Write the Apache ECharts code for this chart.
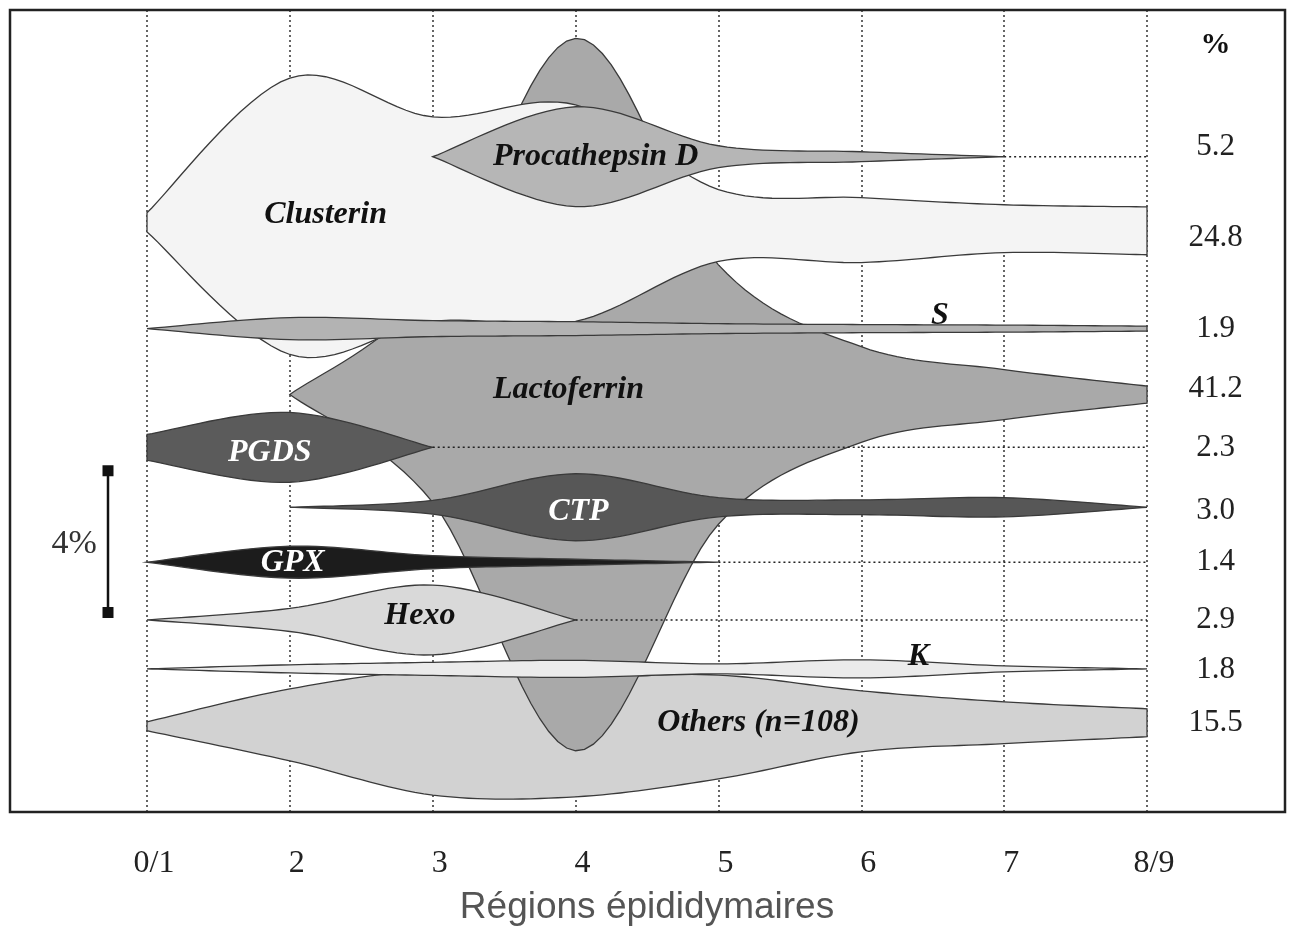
<!DOCTYPE html>
<html>
<head>
<meta charset="utf-8">
<title>Régions épididymaires</title>
<script src="https://cdn.jsdelivr.net/npm/echarts@6/dist/echarts.min.js"></script>
<style>
  html, body { margin: 0; padding: 0; background: #fff; }
  #chart { width: 1294px; height: 931px; }
</style>
</head>
<body>
<div id="chart"></div>
<script>
// régions épididymaires (axe X)
const regions = ['0/1', '2', '3', '4', '5', '6', '7', '8/9'];

// protéines, dans l'ordre de haut en bas
const proteins = ['Procathepsin D', 'Clusterin', 'S', 'Lactoferrin', 'PGDS', 'CTP', 'GPX', 'Hexo', 'K', 'Others (n=108)'];
const percents = [5.2, 24.8, 1.9, 41.2, 2.3, 3.0, 1.4, 2.9, 1.8, 15.5];

// épaisseur de chaque bande (en %) par région, null = absente
const procathepsinW = [null, null, 0, 2.82, 0.62, 0.28, 0, null];
const clusterinW = [0.54, 7.80, 5.77, 6.11, 2.03, 1.83, 1.35, 1.35];
const sW = [0, 0.62, 0.45, 0.39, 0.28, 0.23, 0.20, 0.14];
const lactoferrinW = [null, 0, 6.08, 20.1, 7.32, 2.70, 1.41, 0.48];
const pgdsW = [0.73, 1.97, 0, null, null, null, null, null];
const ctpW = [null, 0, 0.39, 1.89, 0.54, 0.42, 0.54, 0];
const gpxW = [0, 0.90, 0.37, 0.17, 0, null, null, null];
const hexoW = [0, 0.65, 1.97, 0, null, null, null, null];
const kW = [0, 0.23, 0.37, 0.48, 0.28, 0.51, 0.17, 0];
const othersW = [0.25, 2.03, 3.52, 3.38, 2.93, 1.72, 1.18, 0.79];

// axe central de chaque bande (en %, depuis le haut du cadre)
const clusterinC = [5.99, 5.82, 5.90, 5.73, 6.08, 6.21, 6.17, 6.23];
const othersC = [20.21, 20.17, 20.39, 20.51, 20.23, 20.07, 20.11, 20.11];
const centers = [4.14, clusterinC, 8.99, 10.85, 12.34, 14.03, 15.58, 17.21, 18.59, othersC];
const widths = [procathepsinW, clusterinW, sW, lactoferrinW, pgdsW, ctpW, gpxW, hexoW, kW, othersW];

// position des étiquettes (région, %)
const nameX = [3.14, 1.25, 5.55, 2.95, 0.86, 3.02, 1.02, 1.91, 5.40, 4.28];
const nameY = [4.14, 5.77, 8.62, 10.70, 12.48, 14.17, 15.60, 17.10, 18.25, 20.11];
const percentRows = [3.86, 6.42, 9.01, 10.70, 12.34, 14.14, 15.58, 17.21, 18.62, 20.11];

const fills = ['#b6b6b6', '#f4f4f4', '#b3b3b3', '#a9a9a9', '#5b5b5b', '#575757', '#1c1c1c', '#d9d9d9', '#ebebeb', '#d2d2d2'];
const nameColors = ['#111', '#111', '#111', '#111', '#fff', '#fff', '#fff', '#111', '#111', '#111'];
// ordre de dessin (arrière -> avant)
const drawOrder = [9, 3, 1, 0, 2, 4, 5, 6, 7, 8];

const scaleBar = 4; // barre d'échelle : 4 %
const scaleFrom = 13;

const chart = echarts.init(document.getElementById('chart'));

// courbe de Catmull-Rom passant par les points
function smoothEdge(pts) {
    const out = [pts[0]];
    for (let i = 0; i < pts.length - 1; i++) {
        const p0 = pts[Math.max(i - 1, 0)], p1 = pts[i], p2 = pts[i + 1], p3 = pts[Math.min(i + 2, pts.length - 1)];
        for (let s = 1; s <= 16; s++) {
            const t = s / 16, t2 = t * t, t3 = t2 * t;
            const f = k => 0.5 * (2 * p1[k] + (p2[k] - p0[k]) * t +
                (2 * p0[k] - 5 * p1[k] + 4 * p2[k] - p3[k]) * t2 +
                (3 * p1[k] - p0[k] - 3 * p2[k] + p3[k]) * t3);
            out.push([f(0), f(1)]);
        }
    }
    return out;
}

function centerAt(p, i) {
    const c = centers[p];
    return Array.isArray(c) ? c[i] : c;
}

function renderBand(params, api) {
    const p = drawOrder[params.dataIndex];
    const w = widths[p];
    const idx = [];
    w.forEach((v, i) => { if (v != null) idx.push(i); });
    const top = idx.map(i => api.coord([i, centerAt(p, i) - w[i] / 2]));
    const bot = idx.map(i => api.coord([i, centerAt(p, i) + w[i] / 2]));
    const points = smoothEdge(top).concat(smoothEdge(bot).reverse());
    const children = [{
        type: 'polygon',
        shape: { points: points },
        style: { fill: fills[p], stroke: '#3a3a3a', lineWidth: 1.3 }
    }];
    const last = idx[idx.length - 1];
    if (last < regions.length - 1) {
        const a = api.coord([last, centerAt(p, last)]);
        const b = api.coord([regions.length - 1, centerAt(p, last)]);
        children.push({
            type: 'line',
            shape: { x1: a[0], y1: a[1], x2: b[0], y2: b[1] },
            style: { stroke: '#222', lineWidth: 1.5, lineDash: [2, 3] }
        });
    }
    return { type: 'group', children: children };
}

function renderLabels(params, api) {
    const p = params.dataIndex;
    const a = api.coord([nameX[p], nameY[p]]);
    const b = api.coord([7.48, percentRows[p]]);
    return {
        type: 'group',
        children: [{
            type: 'text', x: a[0], y: a[1],
            style: {
                text: proteins[p], fill: nameColors[p], align: 'center', verticalAlign: 'middle',
                font: 'italic bold 32px "Liberation Serif"'
            }
        }, {
            type: 'text', x: b[0], y: b[1],
            style: {
                text: percents[p].toFixed(1), fill: '#222', align: 'center', verticalAlign: 'middle',
                font: '31px "Liberation Serif"'
            }
        }]
    };
}

function renderExtras(params, api) {
    const t = api.coord([-0.273, scaleFrom]);
    const b = api.coord([-0.273, scaleFrom + scaleBar]);
    const lbl = api.coord([-0.51, scaleFrom + scaleBar / 2 + 0.07]);
    const head = api.coord([7.48, 0.99]);
    return {
        type: 'group',
        children: [
            { type: 'line', shape: { x1: t[0], y1: t[1], x2: b[0], y2: b[1] }, style: { stroke: '#111', lineWidth: 2.5 } },
            { type: 'rect', shape: { x: t[0] - 5.5, y: t[1] - 5.5, width: 11, height: 11 }, style: { fill: '#111' } },
            { type: 'rect', shape: { x: b[0] - 5.5, y: b[1] - 5.5, width: 11, height: 11 }, style: { fill: '#111' } },
            {
                type: 'text', x: lbl[0], y: lbl[1],
                style: { text: scaleBar + '%', fill: '#333', align: 'center', verticalAlign: 'middle', font: '34px "Liberation Serif"' }
            },
            {
                type: 'text', x: head[0], y: head[1],
                style: { text: '%', fill: '#111', align: 'center', verticalAlign: 'middle', font: 'bold 30px "Liberation Serif"' }
            }
        ]
    };
}

const option = {
    animation: false,
    backgroundColor: '#fff',
    grid: { left: 147, right: 147, top: 10, bottom: 119 },
    xAxis: {
        type: 'value', min: 0, max: 7, interval: 1,
        axisLine: { show: false },
        axisTick: { show: false },
        axisLabel: {
            formatter: v => regions[v],
            fontFamily: 'Liberation Serif', fontSize: 32, color: '#222', margin: 37,
            padding: [0, 0, 0, 14]
        },
        splitLine: { show: true, lineStyle: { type: [2, 3], color: '#333', width: 1.5 } },
        name: 'Régions épididymaires',
        nameLocation: 'middle',
        nameGap: 78,
        nameTextStyle: { fontFamily: 'Liberation Sans', fontSize: 37, color: '#555' }
    },
    yAxis: { type: 'value', min: 0, max: 22.6, inverse: true, show: false },
    graphic: [{
        type: 'rect', z: 100,
        shape: { x: 10, y: 10, width: 1275, height: 802 },
        style: { fill: null, stroke: '#222', lineWidth: 2.5 }
    }],
    series: [
        { type: 'custom', clip: false, renderItem: renderBand, data: drawOrder.map(i => [i]), z: 2 },
        { type: 'custom', clip: false, renderItem: renderLabels, data: proteins.map((n, i) => [i]), z: 3 },
        { type: 'custom', clip: false, renderItem: renderExtras, data: [[0]], z: 3 }
    ]
};

chart.setOption(option);
</script>
</body>
</html>
